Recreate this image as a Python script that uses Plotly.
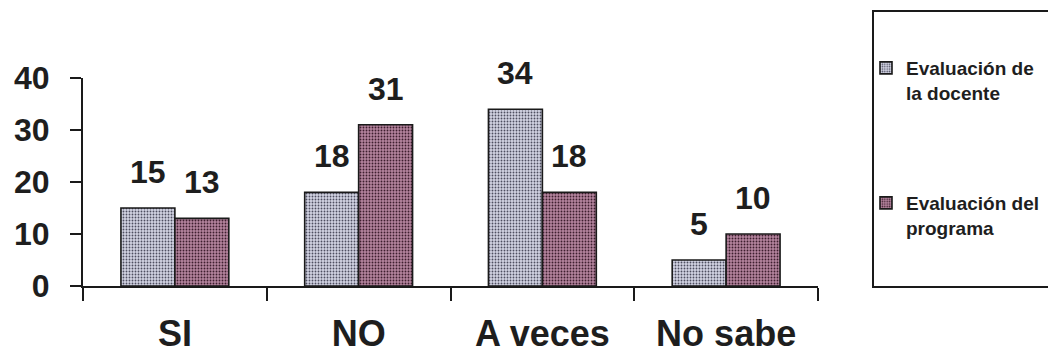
import plotly.graph_objects as go

categories = ["SI", "NO", "A veces", "No sabe"]
docente = [15, 18, 34, 5]
programa = [13, 31, 18, 10]
series_names = ["Evaluación de<br>la docente", "Evaluación del<br>programa"]
y_ticks = [0, 10, 20, 30, 40]

FONT = "Liberation Sans, Arial, Helvetica, sans-serif"
TXT = "#1e1e1e"

W, H = 1056, 357
OFF = 8  # default page body margin shifts the figure by this much
# desired plot area in window pixels
PL, PR, PT, PB = 83, 818, 78, 286
L, T = PL - OFF, PT - OFF
R = W - (PR - OFF)
B = H - (PB - OFF)
PW, PH = PR - PL, PB - PT

fig = go.Figure()
styles = [
    dict(bg="#d2d3e3", fg="#4e4e60"),
    dict(bg="#b4849e", fg="#3e1e2e"),
]
for name, vals, st, lg in zip(series_names, [docente, programa], styles, ["legend", "legend2"]):
    fig.add_trace(go.Bar(
        x=categories, y=vals, name=name, legend=lg,
        marker=dict(
            color=st["bg"],
            line=dict(color="#1a1a1a", width=1.6),
            pattern=dict(shape=".", fgcolor=st["fg"], bgcolor=st["bg"],
                         size=3, solidity=0.3, fillmode="replace"),
        ),
        hoverinfo="skip",
    ))

# value labels above bars
annotations = []
for vals, shift in [(docente, -27), (programa, 27)]:
    for c, v in zip(categories, vals):
        annotations.append(dict(
            x=c, y=v, xref="x", yref="y", text=str(v), showarrow=False,
            xshift=shift, yshift=16, yanchor="bottom", xanchor="center",
            font=dict(family=FONT, size=32, color=TXT, weight="bold"),
        ))

legend_common = dict(
    xref="container", yref="container", xanchor="left", yanchor="top",
    valign="top", bgcolor="rgba(0,0,0,0)", borderwidth=0,
    font=dict(family=FONT, size=19, color=TXT, weight="bold"),
)

box_l, box_r, box_t, box_b = 873, 1070, 11, 287  # window px
leg_x = 866

fig.update_layout(
    width=W, height=H,
    margin=dict(l=L, r=R, t=T, b=B, autoexpand=False),
    paper_bgcolor="white", plot_bgcolor="white",
    barmode="group", bargap=0.413, bargroupgap=0,
    showlegend=True,
    legend=dict(x=(leg_x - OFF) / W, y=1 - (49 - OFF) / H, **legend_common),
    legend2=dict(x=(leg_x - OFF) / W, y=1 - (184 - OFF) / H, **legend_common),
    annotations=annotations,
    shapes=[dict(
        type="rect", xref="paper", yref="paper",
        x0=(box_l - PL) / PW, x1=(box_r - PL) / PW,
        y0=(PB - box_b) / PH, y1=(PB - box_t) / PH,
        line=dict(color="#1a1a1a", width=2), fillcolor="rgba(0,0,0,0)",
        layer="above",
    )],
    xaxis=dict(
        type="category", showline=True, linecolor="#1a1a1a", linewidth=2,
        ticks="outside", tickson="boundaries", ticklen=13, tickwidth=2,
        tickcolor="#1a1a1a", showgrid=False, zeroline=False,
        ticklabelstandoff=15, automargin=False,
        tickfont=dict(family=FONT, size=36, color=TXT, weight="bold"),
    ),
    yaxis=dict(
        range=[0, 40], tickvals=y_ticks, showline=True, linecolor="#1a1a1a",
        linewidth=2, ticks="outside", ticklen=11, tickwidth=2,
        tickcolor="#1a1a1a", showgrid=False, zeroline=False,
        ticklabelstandoff=14, automargin=False,
        tickfont=dict(family=FONT, size=32, color=TXT, weight="bold"),
    ),
)

fig.write_html("out.html")
